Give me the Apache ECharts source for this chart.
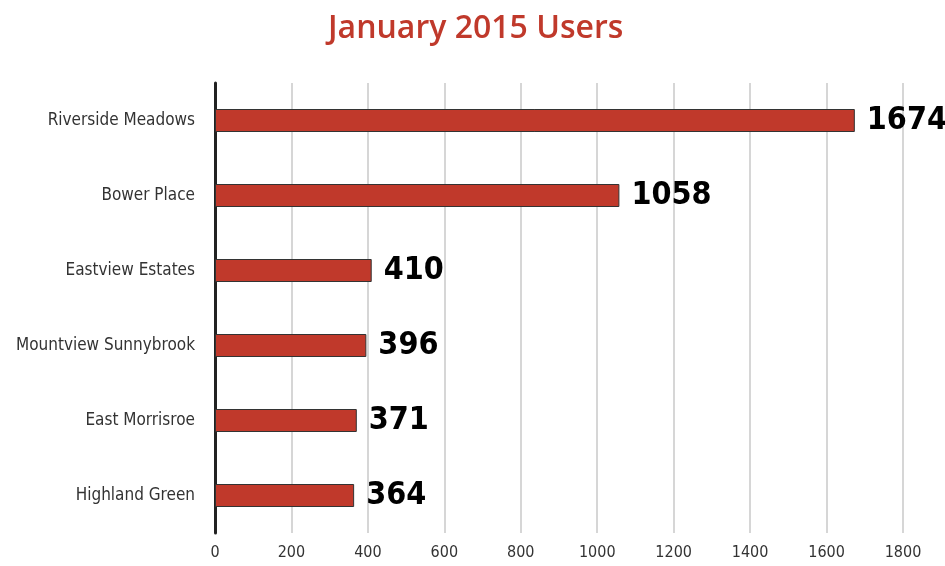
<!DOCTYPE html>
<html>
<head>
<meta charset="utf-8">
<script src="https://cdn.jsdelivr.net/npm/echarts@6/dist/echarts.min.js"></script>
<style>
  html, body { margin: 0; padding: 0; background: #fff; }
  #chart { width: 945px; height: 566px; }
</style>
</head>
<body>
<div id="chart"></div>
<script>
// data
const neighbourhoods = ['Riverside Meadows', 'Bower Place', 'Eastview Estates', 'Mountview Sunnybrook', 'East Morrisroe', 'Highland Green']
const users = [1674, 1058, 410, 396, 371, 364]
const xTicks = [0, 200, 400, 600, 800, 1000, 1200, 1400, 1600, 1800]

const condensed = '"DejaVu Sans Condensed", "Open Sans", sans-serif'

const chart = echarts.init(document.getElementById('chart'))

const option = {
  animation: false,
  title: {
    text: 'January 2015 Users',
    left: 323,
    top: 8,
    textStyle: {
      color: '#c0392b',
      fontFamily: '"Open Sans", sans-serif',
      fontWeight: 600,
      fontSize: 32
    }
  },
  grid: {
    left: 215,
    right: 42,
    top: 83,
    bottom: 33,
    containLabel: false
  },
  xAxis: {
    type: 'value',
    min: xTicks[0],
    max: xTicks[xTicks.length - 1],
    interval: 200,
    axisLine: { show: false },
    axisTick: { show: false },
    axisLabel: {
      margin: 12,
      color: '#333',
      fontFamily: condensed,
      fontSize: 16,
      formatter: (v) => String(v)
    },
    splitLine: {
      show: true,
      lineStyle: { color: '#d6d6d6', width: 2 }
    }
  },
  yAxis: {
    type: 'category',
    inverse: true,
    data: neighbourhoods,
    axisLine: {
      show: true,
      lineStyle: { color: '#222', width: 3 }
    },
    axisTick: { show: false },
    axisLabel: {
      margin: 20,
      color: '#333',
      fontFamily: condensed,
      fontSize: 17
    }
  },
  series: [
    {
      type: 'bar',
      data: users,
      barWidth: 23,
      itemStyle: {
        color: '#c0392b',
        borderColor: '#333',
        borderWidth: 1
      },
      label: {
        show: true,
        position: 'right',
        distance: 12,
        color: '#000',
        fontFamily: condensed,
        fontWeight: 'bold',
        fontSize: 32
      }
    }
  ]
}

chart.setOption(option)
</script>
</body>
</html>
